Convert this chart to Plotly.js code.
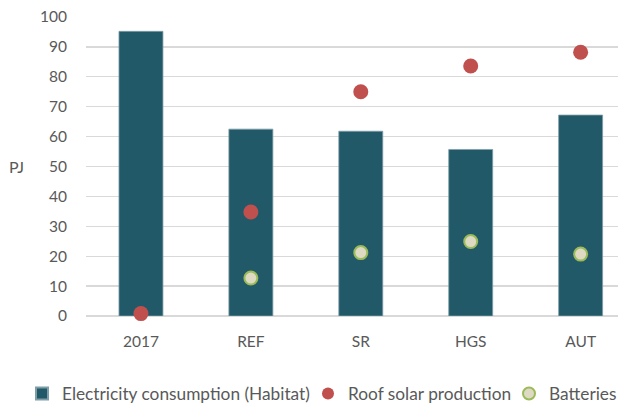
<!DOCTYPE html>
<html>
<head>
<meta charset="utf-8">
<script src="https://cdn.plot.ly/plotly-3.0.1.min.js"></script>
<style>html,body{margin:0;padding:0;background:#fff;}#chart{width:618px;height:406px;}</style>
</head>
<body>
<div id="chart"></div>
<script>
const categories = ['2017', 'REF', 'SR', 'HGS', 'AUT'];
const consumption = [95.2, 62.5, 61.8, 55.7, 67.2];
const roofSolar = [0.8, 34.8, 75.0, 83.6, 88.2];
const batteries = [null, 12.7, 21.2, 24.9, 20.7];
const yTicks = [0, 10, 20, 30, 40, 50, 60, 70, 80, 90, 100];

const family = 'Lato, "Open Sans", sans-serif';
const tickFont = {family: family, size: 15.5, color: '#595959'};
const legFont = {family: family, size: 17.3, color: '#595959'};

const traces = [
  {
    type: 'bar', x: categories, y: consumption, name: 'Electricity consumption (Habitat)',
    width: 0.4, legend: 'legend',
    marker: {color: '#215968', line: {color: '#7f9ea8', width: 0.8}},
    hoverinfo: 'skip'
  },
  {
    type: 'scatter', mode: 'markers', x: categories, y: roofSolar, name: 'Roof solar production',
    legend: 'legend2',
    marker: {color: '#C0504D', size: 15, line: {width: 0}},
    cliponaxis: false, hoverinfo: 'skip'
  },
  {
    type: 'scatter', mode: 'markers', x: categories, y: batteries, name: 'Batteries',
    legend: 'legend3',
    marker: {color: '#DDD9C3', size: 13, line: {color: '#9BBB59', width: 2}},
    cliponaxis: false, hoverinfo: 'skip'
  }
];

function leg(x) {
  return {
    orientation: 'h', xref: 'container', x: x, xanchor: 'left',
    yref: 'container', y: 0.03, yanchor: 'middle', font: legFont,
    itemsizing: 'constant', itemwidth: 30, bgcolor: 'rgba(0,0,0,0)'
  };
}

const layout = {
  width: 618, height: 406,
  margin: {l: 86, r: 0, t: 17, b: 90, autoexpand: false},
  paper_bgcolor: '#ffffff', plot_bgcolor: '#ffffff',
  font: tickFont,
  showlegend: true,
  legend: leg(22 / 618),
  legend2: leg(308 / 618),
  legend3: leg(509 / 618),
  xaxis: {
    type: 'category', range: [-0.5, 4.34], showgrid: false, zeroline: false,
    showline: false, ticks: '', tickfont: tickFont, ticklabelstandoff: 14,
    tickangle: 0, automargin: false, fixedrange: true
  },
  yaxis: {
    range: [0, 100], tickvals: yTicks, ticktext: yTicks.map(String),
    showgrid: true, gridcolor: '#D9D9D9', gridwidth: 1.3,
    zeroline: true, zerolinecolor: '#D9D9D9', zerolinewidth: 1.3,
    showline: false, ticks: '', tickfont: tickFont, ticklabelstandoff: 18,
    automargin: false, fixedrange: true
  },
  annotations: [{
    text: 'PJ', xref: 'paper', yref: 'paper', x: -0.112, y: 0.5,
    xanchor: 'right', yanchor: 'middle', showarrow: false,
    font: {family: family, size: 16, color: '#595959'}
  }]
};

Plotly.newPlot('chart', traces, layout, {displayModeBar: false, staticPlot: true});
</script>
</body>
</html>
